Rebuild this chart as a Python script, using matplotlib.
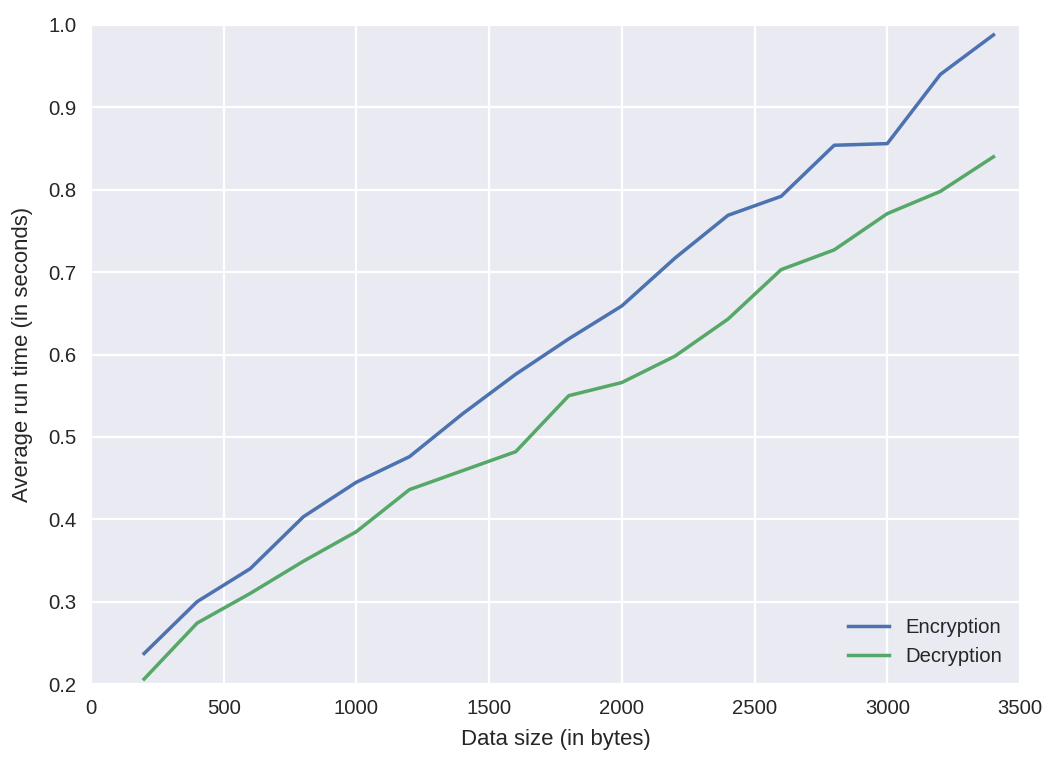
import matplotlib
matplotlib.use("Agg")
import matplotlib.pyplot as plt

data_size = [200, 400, 600, 800, 1000, 1200, 1400, 1600, 1800, 2000,
             2200, 2400, 2600, 2800, 3000, 3200, 3400]
encryption = [0.237, 0.300, 0.340, 0.403, 0.445, 0.476, 0.528, 0.576, 0.619, 0.659,
              0.717, 0.769, 0.792, 0.854, 0.856, 0.940, 0.988]
decryption = [0.206, 0.274, 0.310, 0.349, 0.385, 0.436, 0.459, 0.482, 0.550, 0.566,
              0.598, 0.643, 0.703, 0.727, 0.771, 0.798, 0.840]

xticks = [0, 500, 1000, 1500, 2000, 2500, 3000, 3500]
yticks = [0.2, 0.3, 0.4, 0.5, 0.6, 0.7, 0.8, 0.9, 1.0]

plt.rcParams['font.family'] = ['Liberation Sans', 'DejaVu Sans']
text_color = '#262626'

dpi = 132.4
fig = plt.figure(figsize=(1059 / dpi, 766 / dpi), dpi=dpi)
ax = fig.add_axes([91 / 1059, 1 - 684 / 766, (1020 - 91) / 1059, (684 - 25) / 766])
ax.set_facecolor('#EAEAF2')
for s in ax.spines.values():
    s.set_visible(False)
ax.grid(True, color='white', linewidth=1.2)
ax.set_axisbelow(True)

ax.plot(data_size, encryption, color='#4C72B0', linewidth=1.9, label='Encryption')
ax.plot(data_size, decryption, color='#55A868', linewidth=1.9, label='Decryption')

ax.set_xlim(0, 3500)
ax.set_ylim(0.2, 1.0)
ax.set_xticks(xticks)
ax.set_yticks(yticks)
ax.set_xticklabels([str(t) for t in xticks])
ax.set_yticklabels([f"{t:.1f}" for t in yticks])
ax.tick_params(axis='both', length=0, labelsize=11, colors=text_color, pad=8)
ax.set_xlabel('Data size (in bytes)', fontsize=12, color=text_color, labelpad=6)
ax.set_ylabel('Average run time (in seconds)', fontsize=12, color=text_color, labelpad=8)

leg = ax.legend(loc='lower right', frameon=False, fontsize=11)
for t in leg.get_texts():
    t.set_color(text_color)

fig.savefig('out.png', dpi=dpi)
